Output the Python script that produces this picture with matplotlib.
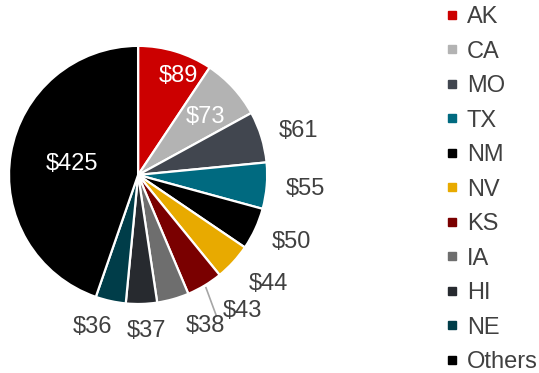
import numpy as np
import matplotlib.pyplot as plt
from matplotlib.lines import Line2D

plt.rcParams["font.family"] = ["Liberation Sans", "DejaVu Sans"]

states = ["AK", "CA", "MO", "TX", "NM", "NV", "KS", "IA", "HI", "NE", "Others"]
values = [89, 73, 61, 55, 50, 44, 43, 38, 37, 36, 425]
colors = ["#CC0000", "#B3B3B3", "#41464F", "#006A80", "#000000", "#E8AA00",
          "#7A0000", "#6E6E6E", "#272A2F", "#003D49", "#000000"]

# label placement: radius (in pie radii) and angle nudge per slice
label_r = [0.83, 0.69, 1.29, 1.30, 1.30, 1.32, 1.33, 1.28, 1.21, 1.23, 0.52]
label_shift = [-5, -2, -2, 0, 1, 2.5, 6.5, 8.5, 1.5, -4.5, 0]
inside = {"AK", "CA", "Others"}
text_grey = "#404040"

fig = plt.figure(figsize=(5.39, 3.73), dpi=100)
ax = fig.add_axes([0.0167, 0.185, 0.479, 0.692])
wedges, _ = ax.pie(values, colors=colors, startangle=90, counterclock=False,
                   wedgeprops=dict(edgecolor="white", linewidth=1.6))
ax.set_aspect("equal")
ax.set_xlim(-1, 1)
ax.set_ylim(-1, 1)

for w, name, v, r, sh in zip(wedges, states, values, label_r, label_shift):
    mid = np.deg2rad((w.theta1 + w.theta2) / 2)
    ang = mid + np.deg2rad(sh)
    x, y = r * np.cos(ang), r * np.sin(ang)
    col = "white" if name in inside else text_grey
    ax.text(x, y, f"${v}", ha="center", va="center", fontsize=17,
            color=col)
    if name == "KS":
        ax.plot([1.02 * np.cos(mid), 1.25 * np.cos(mid - np.deg2rad(2))],
                [1.02 * np.sin(mid), 1.25 * np.sin(mid - np.deg2rad(2))],
                color="#A6A6A6", linewidth=1.2, clip_on=False)

handles = [Line2D([], [], marker="s", linestyle="none", markersize=6,
                  markerfacecolor=c, markeredgecolor=c) for c in colors]
leg = fig.legend(handles, states, loc="upper left",
                 bbox_to_anchor=(0.8224, 0.987), frameon=False, fontsize=17,
                 handlelength=0.6, handletextpad=0.35, labelspacing=0.53,
                 borderaxespad=0.0, borderpad=0.05)
for t in leg.get_texts():
    t.set_color(text_grey)

fig.savefig("out.png", dpi=100)
